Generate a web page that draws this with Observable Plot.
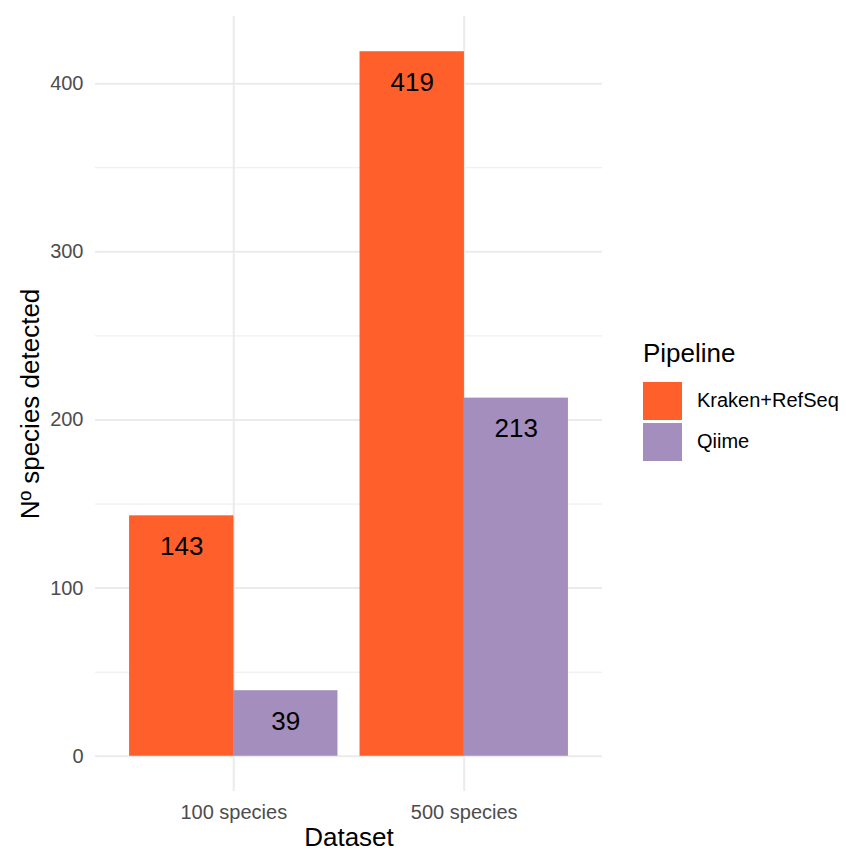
<!DOCTYPE html>
<html><head><meta charset="utf-8">
<script src="https://cdn.jsdelivr.net/npm/d3@7"></script>
<script src="https://cdn.jsdelivr.net/npm/@observablehq/plot@0.6"></script>
<style>
body{margin:0;background:#fff;font-family:"Liberation Sans",Arial,sans-serif}
#wrap{position:relative;width:846px;height:851px}
#legend{position:absolute;left:643px;top:338px;color:#000}
#legend .title{font-size:26px;line-height:30px;margin-bottom:12px}
#legend .row{display:flex;align-items:center;height:41px}
#legend .sw{width:39px;height:38px;margin-right:15px}
#legend .lab{font-size:20px}
</style></head><body>
<div id="wrap"><div id="chart"></div><div id="legend"></div></div>
<script>
const datasets = ["100 species", "500 species"];
const pipelines = ["Kraken+RefSeq", "Qiime"];
const krakenValues = [143, 419];
const qiimeValues = [39, 213];
const pipelineColors = ["#FF5F2B", "#A48EBE"];
const yMajorTicks = [0, 100, 200, 300, 400];
const yMinorTicks = [50, 150, 250, 350];
const yLabel = "Nº species detected";
const xLabel = "Dataset";
const legendTitle = "Pipeline";

const rows = [];
datasets.forEach((d, i) => {
  rows.push({dataset: d, pipeline: pipelines[0], value: krakenValues[i]});
  rows.push({dataset: d, pipeline: pipelines[1], value: qiimeValues[i]});
});
const kRows = rows.filter(r => r.pipeline === pipelines[0]);
const qRows = rows.filter(r => r.pipeline === pipelines[1]);
const half = 104;
const font = '"Liberation Sans", Arial, sans-serif';

const chart = Plot.plot({
  width: 846, height: 851,
  marginLeft: 95, marginRight: 244, marginTop: 16, marginBottom: 60,
  style: {fontFamily: font, background: "#fff"},
  x: {domain: datasets, paddingInner: 0.0957, paddingOuter: 0.1478, align: 0.5, round: false, axis: null},
  y: {domain: [-20.95, 439.95], axis: null},
  color: {domain: pipelines, range: pipelineColors},
  marks: [
    Plot.gridY(yMinorTicks, {stroke: "#EBEBEB", strokeOpacity: 1, strokeWidth: 1}),
    Plot.gridY(yMajorTicks, {stroke: "#EBEBEB", strokeOpacity: 1, strokeWidth: 2}),
    Plot.gridX(datasets, {stroke: "#EBEBEB", strokeOpacity: 1, strokeWidth: 2}),
    Plot.barY(kRows, {x: "dataset", y: "value", fill: "pipeline", insetRight: half, insetLeft: 0}),
    Plot.barY(qRows, {x: "dataset", y: "value", fill: "pipeline", insetLeft: half, insetRight: 0}),
    Plot.text(kRows, {x: "dataset", y: "value", text: d => String(d.value), dx: -half/2, dy: 31, fontSize: 26, fill: "#000"}),
    Plot.text(qRows, {x: "dataset", y: "value", text: d => String(d.value), dx: half/2, dy: 31, fontSize: 26, fill: "#000"}),
    Plot.axisY(yMajorTicks, {tickSize: 0, tickPadding: 12, fontSize: 20, color: "#4D4D4D", label: null}),
    Plot.axisX(datasets, {tickSize: 0, tickPadding: 13, fontSize: 20, color: "#4D4D4D", label: null}),
    Plot.text([yLabel], {frameAnchor: "left", textAnchor: "middle", lineAnchor: "middle", rotate: -90, dx: -65, fontSize: 26, fill: "#000"}),
    Plot.text([xLabel], {frameAnchor: "bottom", textAnchor: "middle", lineAnchor: "middle", dy: 46, fontSize: 26, fill: "#000"})
  ]
});
document.getElementById("chart").appendChild(chart);

const legend = document.getElementById("legend");
const t = document.createElement("div");
t.className = "title"; t.textContent = legendTitle;
legend.appendChild(t);
pipelines.forEach((p, i) => {
  const row = document.createElement("div"); row.className = "row";
  const sw = document.createElement("div"); sw.className = "sw"; sw.style.background = pipelineColors[i];
  const lab = document.createElement("div"); lab.className = "lab"; lab.textContent = p;
  row.appendChild(sw); row.appendChild(lab); legend.appendChild(row);
});
</script>
</body></html>
